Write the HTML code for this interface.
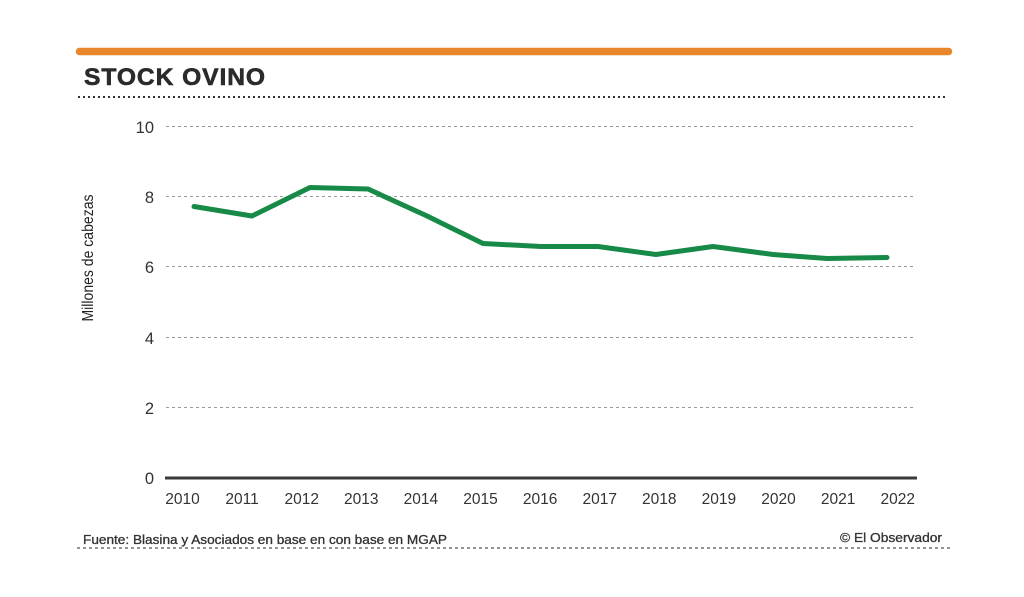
<!DOCTYPE html>
<html><head><meta charset="utf-8"><style>
html,body{margin:0;padding:0;background:#fff;}
svg{display:block;}
</style></head><body>
<svg width="1024" height="597" viewBox="0 0 1024 597" xmlns="http://www.w3.org/2000/svg">
<rect width="1024" height="597" fill="#fff"/>
<line x1="79.5" y1="51.5" x2="948.5" y2="51.5" stroke="#E8862B" stroke-width="7.5" stroke-linecap="round"/>
<text x="84" y="85" font-family="Liberation Sans, sans-serif" font-weight="bold" font-size="24" letter-spacing="0.9" fill="#2b2b2b" stroke="#2b2b2b" stroke-width="0.6" textLength="182" lengthAdjust="spacingAndGlyphs">STOCK OVINO</text>
<line x1="78" y1="97" x2="946" y2="97" stroke="#333" stroke-width="2" stroke-dasharray="2,3"/>
<g stroke="#999" stroke-width="1" stroke-dasharray="3,3">
<line x1="166" y1="126.5" x2="916" y2="126.5"/>
<line x1="166" y1="196.5" x2="916" y2="196.5"/>
<line x1="166" y1="266.5" x2="916" y2="266.5"/>
<line x1="166" y1="337.5" x2="916" y2="337.5"/>
<line x1="166" y1="407.5" x2="916" y2="407.5"/>
</g>
<line x1="165" y1="478" x2="917" y2="478" stroke="#3a3a3a" stroke-width="3"/>
<g font-family="Liberation Sans, sans-serif" font-size="16.5" fill="#333" text-anchor="end">
<text x="154" y="133">10</text>
<text x="154" y="203">8</text>
<text x="154" y="273">6</text>
<text x="154" y="344">4</text>
<text x="154" y="414">2</text>
<text x="154" y="484">0</text>
</g>
<text transform="translate(93,258) rotate(-90)" font-family="Liberation Sans, sans-serif" font-size="16" fill="#222" text-anchor="middle" textLength="127" lengthAdjust="spacingAndGlyphs">Millones de cabezas</text>
<g font-family="Liberation Sans, sans-serif" font-size="15.5" fill="#333" text-anchor="middle">
<text x="182.5" y="504">2010</text>
<text x="242.1" y="504">2011</text>
<text x="301.7" y="504">2012</text>
<text x="361.3" y="504">2013</text>
<text x="420.9" y="504">2014</text>
<text x="480.5" y="504">2015</text>
<text x="540.1" y="504">2016</text>
<text x="599.7" y="504">2017</text>
<text x="659.3" y="504">2018</text>
<text x="718.9" y="504">2019</text>
<text x="778.5" y="504">2020</text>
<text x="838.1" y="504">2021</text>
<text x="897.7" y="504">2022</text>
</g>
<polyline fill="none" stroke="#178A47" stroke-width="5" stroke-linejoin="round" stroke-linecap="round"
points="194,206.5 252,216 310,187.5 368,189 426,215.5 483,243.5 541,246.5 598,246.5 656,254.5 713,246.5 773,254.5 827,258.5 887,257.5"/>
<text x="83" y="544" font-family="Liberation Sans, sans-serif" font-size="12.5" fill="#333" stroke="#333" stroke-width="0.3" textLength="364" lengthAdjust="spacingAndGlyphs">Fuente: Blasina y Asociados en base en con base en MGAP</text>
<text x="942" y="542" font-family="Liberation Sans, sans-serif" font-size="12.5" fill="#333" stroke="#333" stroke-width="0.3" text-anchor="end" textLength="102" lengthAdjust="spacingAndGlyphs">© El Observador</text>
<line x1="77" y1="548" x2="951" y2="548" stroke="#555" stroke-width="1.2" stroke-dasharray="3,3"/>
</svg>
</body></html>
